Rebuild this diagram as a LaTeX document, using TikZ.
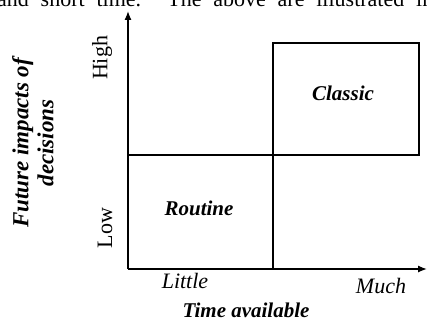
\documentclass[tikz,border=0pt]{standalone}
\usepackage{fontspec}
\setmainfont{Liberation Serif}
\usetikzlibrary{arrows.meta}
\begin{document}
\begin{tikzpicture}[x=1pt,y=1pt,
  ln/.style={line width=1.3pt, black},
  ax/.style={line width=1.3pt, -{Latex[length=9pt,width=7pt]}},
  bi/.style={font=\fontsize{21}{25}\selectfont\bfseries\itshape},
  it/.style={font=\fontsize{22}{25}\selectfont\itshape},
  rm/.style={font=\fontsize{22}{25}\selectfont}]
\useasboundingbox (0,0) rectangle (427,324);
\begin{scope}
\clip (0,0) rectangle (427,324);
\node[rm, anchor=base west, inner sep=0] (top) at (-3,317) {\makebox[436pt][s]{and short time. The above are illustrated in}};
\end{scope}
% axes
\coordinate (O) at (128,55);
\coordinate (Ytop) at (128,313);
\coordinate (Xend) at (427,55);
\draw[ax] (O) -- (Ytop);
\draw[ax] (O) -- (Xend);
% middle lines
\coordinate (mh1) at (128,169);
\coordinate (mh2) at (273,169);
\coordinate (mv1) at (273,55);
\coordinate (mv2) at (273,281);
\draw[ln] (mh1) -- (mh2);
\draw[ln] (mv1) -- (mv2);
% classic box
\draw[ln] (mh2) rectangle (419,281);
\node[bi] (classic) at (343,231) {Classic};
\node[bi] (routine) at (199,116) {Routine};
\node[rm, rotate=90] (high) at (102,266) {High};
\node[rm, rotate=90] (low) at (105,96) {Low};
\node[bi, rotate=90, align=center, font=\fontsize{23}{25}\selectfont\bfseries\itshape] (fut) at (33,181) {Future impacts of\\decisions};
\node[it] (little) at (185,43) {Little};
\node[it] (much) at (381,38) {Much};
\node[bi] (time) at (246,14) {Time available};
\end{tikzpicture}
\end{document}
